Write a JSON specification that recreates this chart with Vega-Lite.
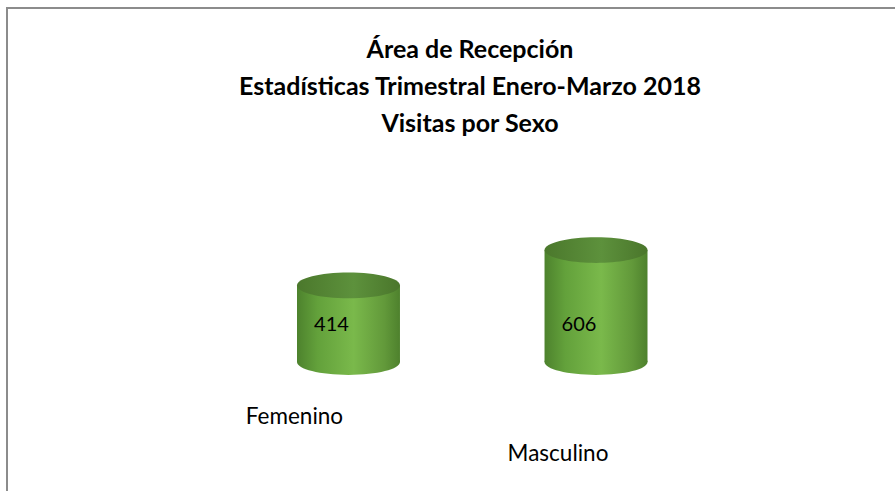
{
  "$schema": "https://vega.github.io/schema/vega-lite/v6.json",
  "autosize": "none",
  "padding": {"left": 7, "top": 8, "right": 0, "bottom": 0},
  "width": 926,
  "height": 500,
  "background": "white",
  "config": {
    "view": {"stroke": "#8c8c8c", "strokeWidth": 2},
    "font": "Lato"
  },
  "title": {
    "text": ["Área de Recepción", "Estadísticas Trimestral Enero-Marzo 2018", "Visitas por Sexo"],
    "font": "Lato",
    "fontSize": 25,
    "fontWeight": "bold",
    "color": "#000000",
    "lineHeight": 37,
    "anchor": "middle",
    "offset": -129
  },
  "data": {
    "values": [
      {"sexo": "Femenino", "visitas": 414},
      {"sexo": "Masculino", "visitas": 606}
    ]
  },
  "encoding": {
    "x": {
      "field": "sexo",
      "type": "nominal",
      "sort": null,
      "scale": {"range": [290, 640.5], "paddingInner": 0.584, "paddingOuter": 0},
      "axis": {
        "title": null,
        "orient": "bottom",
        "offset": -120,
        "domain": false,
        "ticks": false,
        "tickSize": 0,
        "labelAngle": 0,
        "labelFont": "Lato",
        "labelFontSize": 22.5,
        "labelColor": "#000000",
        "labelBaseline": "top",
        "labelPadding": {"condition": {"test": "datum.value === 'Masculino'", "value": 54}, "value": 17},
        "labelOffset": {"condition": {"test": "datum.value === 'Masculino'", "value": -38}, "value": -54}
      }
    },
    "y": {
      "field": "visitas",
      "type": "quantitative",
      "scale": {"domain": [0, 606], "range": [354, 242], "nice": false, "zero": true},
      "axis": null
    }
  },
  "layer": [
    {
      "mark": {
        "type": "point",
        "shape": "M-1,0A1,0.25,0,1,0,1,0A1,0.25,0,1,0,-1,0Z",
        "filled": true,
        "opacity": 1,
        "size": 10609,
        "strokeWidth": 0,
        "fill": {"gradient": "linear", "x1": 0, "y1": 0, "x2": 1, "y2": 0,
          "stops": [
            {"offset": 0, "color": "#4d822d"},
            {"offset": 0.2, "color": "#63a13b"},
            {"offset": 0.55, "color": "#7ab94b"},
            {"offset": 0.85, "color": "#62993a"},
            {"offset": 1, "color": "#4e812d"}
          ]}
      },
      "encoding": {"y": {"datum": 0, "type": "quantitative"}}
    },
    {
      "mark": {
        "type": "bar",
        "fill": {"gradient": "linear", "x1": 0, "y1": 0, "x2": 1, "y2": 0,
          "stops": [
            {"offset": 0, "color": "#4d822d"},
            {"offset": 0.2, "color": "#63a13b"},
            {"offset": 0.55, "color": "#7ab94b"},
            {"offset": 0.85, "color": "#62993a"},
            {"offset": 1, "color": "#4e812d"}
          ]}
      },
      "encoding": {"y2": {"datum": 0}}
    },
    {
      "mark": {
        "type": "point",
        "shape": "M-1,0A1,0.25,0,1,0,1,0A1,0.25,0,1,0,-1,0Z",
        "filled": true,
        "opacity": 1,
        "size": 10609,
        "strokeWidth": 0,
        "fill": {"gradient": "linear", "x1": 0, "y1": 0, "x2": 1, "y2": 0,
          "stops": [
            {"offset": 0, "color": "#4b782c"},
            {"offset": 0.55, "color": "#5d913c"},
            {"offset": 1, "color": "#4a762b"}
          ]}
      }
    },
    {
      "mark": {"type": "text", "font": "Lato", "fontSize": 20, "dx": -17, "color": "#000000", "baseline": "middle", "align": "center"},
      "encoding": {
        "y": {"datum": 200, "type": "quantitative"},
        "text": {"field": "visitas", "type": "quantitative"}
      }
    }
  ]
}
